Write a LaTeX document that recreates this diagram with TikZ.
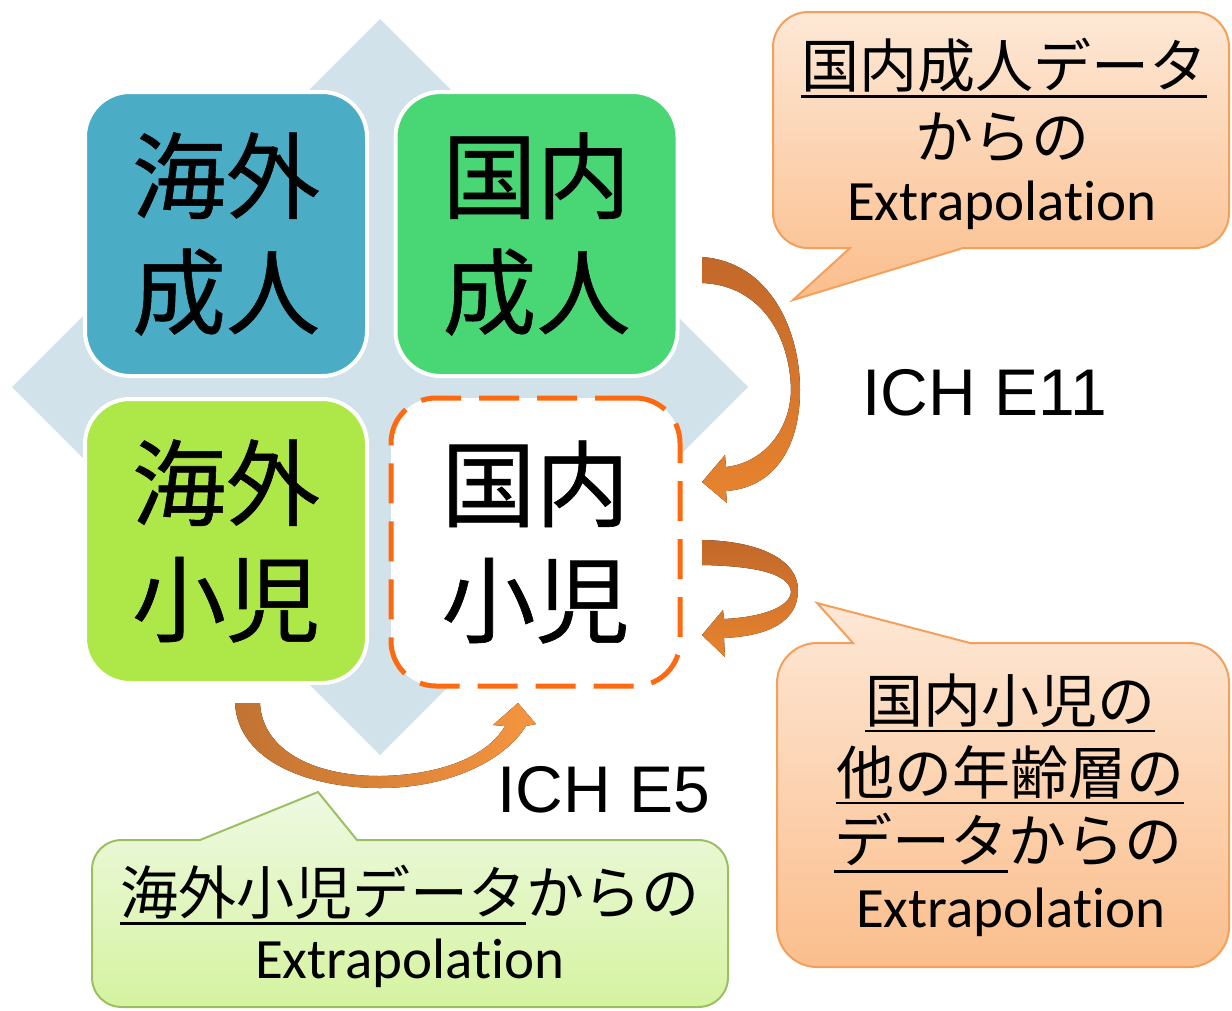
\documentclass[tikz,border=0pt]{standalone}
\usepackage{fontspec}
\newfontfamily\jp{Noto Sans CJK JP}
\newfontfamily\jpb[FakeBold=0.6]{Noto Sans CJK JP}
\newfontfamily\lat[Ligatures=NoCommon]{Carlito}
\newfontfamily\arl{Liberation Sans}
\newcommand\ulx[1]{\setbox0\hbox{#1}\rlap{\rule[-0.17em]{\wd0}{2.8pt}}\box0}
\definecolor{diam}{HTML}{D1E2EA}
\definecolor{cTL}{HTML}{4BACC6}
\definecolor{cTR}{HTML}{49D674}
\definecolor{cBL}{HTML}{AEE848}
\definecolor{dashc}{HTML}{FF6A10}
\definecolor{arD}{HTML}{C2682A}
\definecolor{arL}{HTML}{E8842E}
\definecolor{arB}{HTML}{C27332}
\definecolor{arO}{HTML}{F5953F}
\definecolor{coTop}{HTML}{FDE8D6}
\definecolor{coBot}{HTML}{FBBE8C}
\definecolor{coLine}{HTML}{F5A05A}
\definecolor{gTop}{HTML}{EEF9E2}
\definecolor{gBot}{HTML}{D5F3A0}
\definecolor{gLine}{HTML}{9BC062}
\tikzset{
  quad/.style={rounded corners=45pt, minimum width=282pt, minimum height=284pt,
    draw=white, line width=4pt, inner sep=0pt, align=center,
    font=\jpb\fontsize{94}{116}\selectfont},
  txt/.style={inner sep=0pt, font=\jp\fontsize{58}{68}\selectfont},
  ex/.style={inner sep=0pt, font=\lat\fontsize{57}{68}\selectfont},
  ich/.style={inner sep=0pt, anchor=west, font=\arl\fontsize{66}{70}\selectfont},
  peach/.style={draw=coLine, line width=2pt, top color=coTop, bottom color=coBot},
  lime/.style={draw=gLine, line width=2pt, top color=gTop, bottom color=gBot},
  blockarrow/.style={top color=arD, bottom color=arL},
}
\begin{document}
\begin{tikzpicture}[x=1pt,y=-1pt]
\useasboundingbox (0,0) rectangle (1232,1010);
% background diamond
\fill[diam] (380,19) -- (748,387) -- (380,755) -- (12,387) -- cycle;
% quadrants
\node[quad, fill=cTL] (tl) at (226,234) {海外\\成人};
\node[quad, fill=cTR] (tr) at (536.5,234) {国内\\成人};
\node[quad, fill=cBL] (bl) at (226,541) {海外\\小児};
\node[quad, fill=white, draw=dashc, line width=5pt, dash pattern=on 40pt off 18pt,
      minimum width=289pt, minimum height=288pt] (br) at (535.5,542) {国内\\小児};
% curved block arrows
\fill[blockarrow] (702,257) .. controls (770,262) and (800,330) .. (800,390)
  .. controls (800,450) and (772,488) .. (726,491) -- (727,503) -- (702,482)
  -- (725,455) -- (726,467) .. controls (762,463) and (790,432) .. (791,390)
  .. controls (790,335) and (760,285) .. (702,283) -- cycle;
\fill[blockarrow] (702,540) .. controls (760,541) and (798,560) .. (798,590)
  .. controls (798,622) and (768,636) .. (724,638) -- (725,657) -- (702,635)
  -- (723,610) -- (724,619) .. controls (765,617) and (790,606) .. (791,592)
  .. controls (790,575) and (760,566) .. (702,565) -- cycle;
\fill[left color=arB, right color=arO] (235,703) .. controls (238,762) and (310,788) .. (380,788)
  .. controls (450,788) and (505,760) .. (526,726) -- (536,724) -- (518,703)
  -- (493,725) -- (505,726) .. controls (487,757) and (440,775) .. (380,776)
  .. controls (310,776) and (262,748) .. (260,703) -- cycle;
% callouts
\path[peach] (808,12) -- (1195,12) .. controls (1214,12) and (1229,28) .. (1229,47)
  -- (1229,213) .. controls (1229,232) and (1214,248) .. (1195,248) -- (963,248)
  -- (793,300) -- (850,248) -- (808,248) .. controls (789,248) and (773,232) .. (773,213)
  -- (773,47) .. controls (773,28) and (789,12) .. (808,12) -- cycle;
\path[peach] (817,643) -- (853,643) -- (817,603) -- (970,643) -- (1189,643)
  .. controls (1211,643) and (1229,661) .. (1229,683) -- (1229,927)
  .. controls (1229,949) and (1211,967) .. (1189,967) -- (817,967)
  .. controls (795,967) and (777,949) .. (777,927) -- (777,683)
  .. controls (777,661) and (795,643) .. (817,643) -- cycle;
\path[lime] (122,840) -- (200,840) -- (318,792) -- (357,840) -- (698,840)
  .. controls (715,840) and (728,853) .. (728,870) -- (728,977)
  .. controls (728,994) and (715,1007) .. (698,1007) -- (122,1007)
  .. controls (105,1007) and (92,994) .. (92,977) -- (92,870)
  .. controls (92,853) and (105,840) .. (122,840) -- cycle;
% callout texts
\node[txt] (c1a) at (1004,68) {\ulx{国内成人データ}};
\node[txt] (c1b) at (1002,137) {からの};
\node[ex] (c1c) at (1002,205) {Extrapolation};
\node[txt] (c2a) at (1010,703) {\ulx{国内小児の}};
\node[txt] (c2b) at (1010,775) {\ulx{他の年齢層の}};
\node[txt] (c2c) at (1008,843) {\ulx{データ}からの};
\node[ex] (c2d) at (1011,912) {Extrapolation};
\node[txt] (c3a) at (410,895) {\ulx{海外小児データ}からの};
\node[ex] (c3b) at (410,963) {Extrapolation};
% labels
\node[ich] (e11) at (862,393) {ICH E11};
\node[ich] (e5) at (497,790) {ICH E5};
\end{tikzpicture}
\end{document}
